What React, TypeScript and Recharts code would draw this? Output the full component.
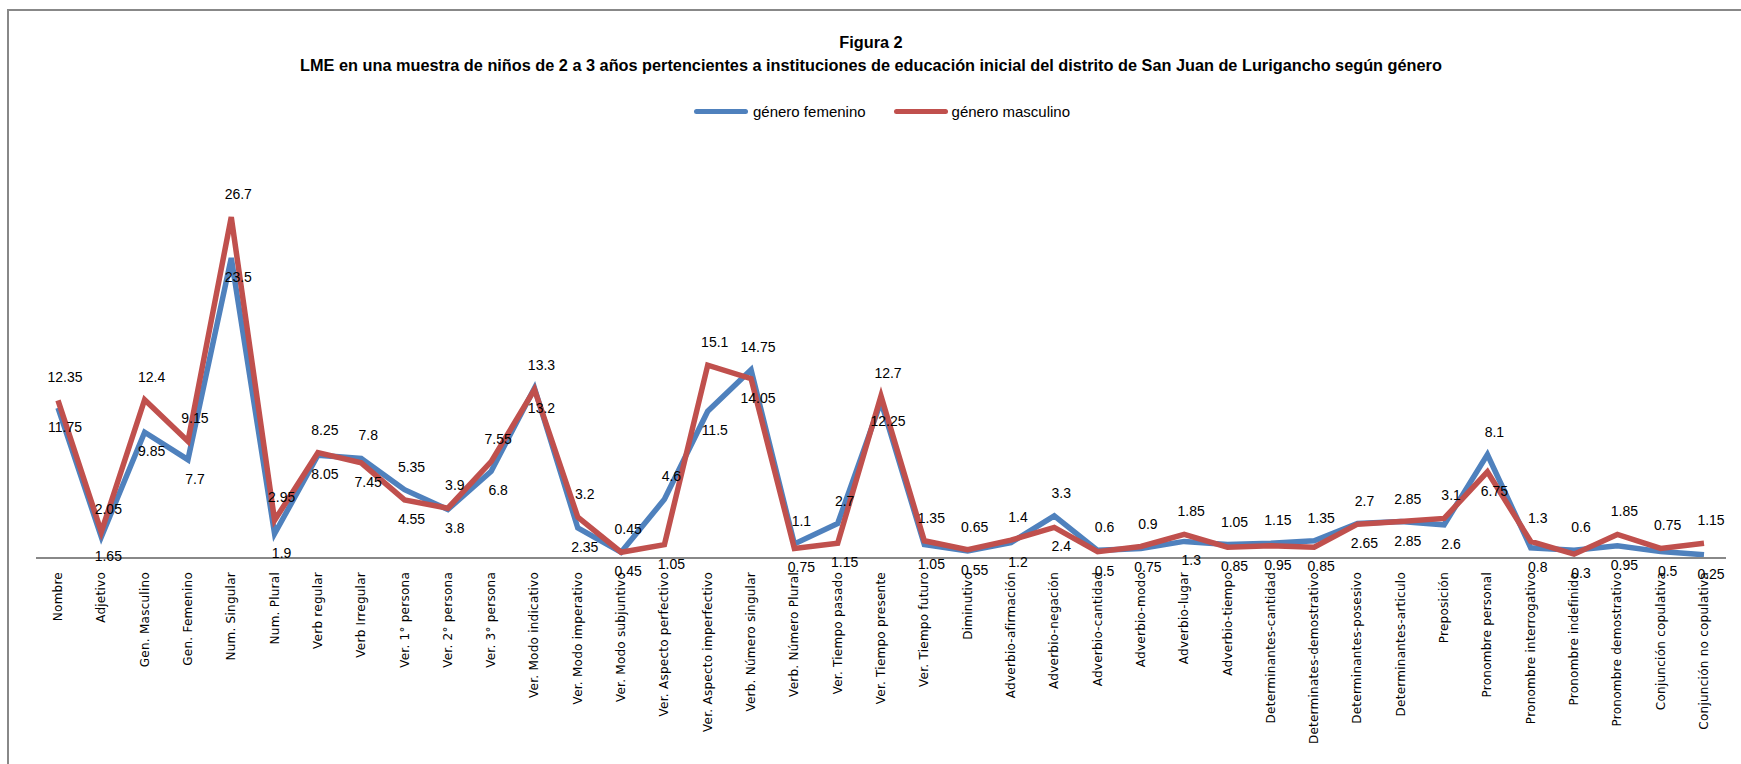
import React from 'react';
import { Legend, Line, LineChart, XAxis, YAxis } from 'recharts';

const categories = [
  'Nombre', 'Adjetivo', 'Gen. Masculino', 'Gen. Femenino', 'Num. Singular', 'Num. Plural',
  'Verb regular', 'Verb Irregular', 'Ver. 1° persona', 'Ver. 2° persona', 'Ver. 3° persona',
  'Ver. Modo indicativo', 'Ver. Modo imperativo', 'Ver. Modo subjuntivo', 'Ver. Aspecto perfectivo',
  'Ver. Aspecto imperfectivo', 'Verb. Número singular', 'Verb. Número Plural', 'Ver. Tiempo pasado',
  'Ver. Tiempo presente', 'Ver. Tiempo futuro', 'Diminutivo', 'Adverbio-afirmación', 'Adverbio-negación',
  'Adverbio-cantidad', 'Adverbio-modo', 'Adverbio-lugar', 'Adverbio-tiempo', 'Determinantes-cantidad',
  'Determinates-demostrativo', 'Determinantes-posesivo', 'Determinantes-articulo', 'Preposición',
  'Pronombre personal', 'Pronombre interrogativo', 'Pronombre indefinido', 'Pronombre demostrativo',
  'Conjunción copulativa', 'Conjunción no copulativa',
];

const femenino = [
  11.75, 1.65, 9.85, 7.7, 23.5, 1.9, 8.05, 7.8, 5.35, 3.8, 6.8, 13.3, 2.35, 0.45, 4.6, 11.5, 14.75, 1.1,
  2.7, 12.25, 1.05, 0.55, 1.2, 3.3, 0.6, 0.75, 1.3, 1.05, 1.15, 1.35, 2.7, 2.85, 2.6, 8.1, 0.8, 0.6, 0.95,
  0.5, 0.25,
];

const masculino = [
  12.35, 2.05, 12.4, 9.15, 26.7, 2.95, 8.25, 7.45, 4.55, 3.9, 7.55, 13.2, 3.2, 0.45, 1.05, 15.1, 14.05, 0.75,
  1.15, 12.7, 1.35, 0.65, 1.4, 2.4, 0.5, 0.9, 1.85, 0.85, 0.95, 0.85, 2.65, 2.85, 3.1, 6.75, 1.3, 0.3, 1.85,
  0.75, 1.15,
];

const data = categories.map((name, i) => ({ name, fem: femenino[i], masc: masculino[i] }));

const BLUE = '#4F81BD';
const RED = '#C0504D';
const W = 1741;
const H = 764;

// higher of the two values gets its label above the point, the other one below
function makeLabel(own: number[], other: number[], isRed: boolean) {
  return (props: any) => {
    const { x, y, index, value } = props;
    const mine = own[index];
    const theirs = other[index];
    const above = mine > theirs || (mine === theirs && isRed);
    return (
      <text
        x={x + 7}
        y={above ? y - 18 : y + 24}
        textAnchor="middle"
        fontSize={14}
        fontFamily="'Liberation Sans', Arial, sans-serif"
        fill="#000"
      >
        {value}
      </text>
    );
  };
}

const CatTick = (props: any) => {
  const { x, y, payload } = props;
  return (
    <text
      transform={`translate(${x + 4},${y + 6}) rotate(-90)`}
      textAnchor="end"
      fontSize={12}
      letterSpacing={0.25}
      fontFamily="'DejaVu Sans', Verdana, sans-serif"
      fill="#000"
    >
      {payload.value}
    </text>
  );
};

const LegendBox = () => (
  <div
    style={{
      display: 'flex',
      justifyContent: 'center',
      alignItems: 'center',
      fontFamily: "'Liberation Sans', Arial, sans-serif",
      fontSize: 15,
      color: '#000',
    }}
  >
    <span style={{ display: 'inline-block', width: 54, height: 5, borderRadius: 3, background: BLUE, marginRight: 5 }} />
    <span style={{ marginRight: 28 }}>género femenino</span>
    <span style={{ display: 'inline-block', width: 54, height: 5, borderRadius: 3, background: RED, marginRight: 4 }} />
    <span>género masculino</span>
  </div>
);

export default function App() {
  return (
    <div style={{ position: 'absolute', left: 0, top: 0, width: W, height: H, overflow: 'hidden', background: '#fff' }}>
      <div
        style={{
          position: 'absolute',
          left: 7,
          top: 9,
          width: W + 40,
          height: H + 40,
          border: '2px solid #888',
          boxSizing: 'border-box',
        }}
      />
      <div
        style={{
          position: 'absolute',
          left: 0,
          width: 1742,
          top: 31,
          textAlign: 'center',
          fontFamily: "'Liberation Sans', Arial, sans-serif",
          fontWeight: 'bold',
          fontSize: 16.3,
          lineHeight: '23px',
          color: '#000',
        }}
      >
        <div>Figura 2</div>
        <div>
          LME en una muestra de niños de 2 a 3 años pertencientes a instituciones de educación inicial del distrito de San
          Juan de Lurigancho según género
        </div>
      </div>
      <div style={{ position: 'absolute', left: 0, top: 0 }}>
        <LineChart width={W} height={H} data={data} margin={{ top: 158, right: 15, bottom: 16, left: 36 }}>
          <XAxis
            dataKey="name"
            interval={0}
            height={190}
            tickLine={false}
            tick={<CatTick />}
            axisLine={{ stroke: '#888', strokeWidth: 2 }}
            padding={{ left: 22, right: 22 }}
          />
          <YAxis hide domain={[0, 30]} />
          <Legend
            verticalAlign="top"
            content={<LegendBox />}
            wrapperStyle={{ position: 'absolute', top: 103, left: 0, width: 1764 }}
          />
          <Line
            dataKey="fem"
            name="género femenino"
            stroke={BLUE}
            strokeWidth={5.5}
            dot={false}
            isAnimationActive={false}
            label={makeLabel(femenino, masculino, false)}
          />
          <Line
            dataKey="masc"
            name="género masculino"
            stroke={RED}
            strokeWidth={5.5}
            dot={false}
            isAnimationActive={false}
            label={makeLabel(masculino, femenino, true)}
          />
        </LineChart>
      </div>
    </div>
  );
}
